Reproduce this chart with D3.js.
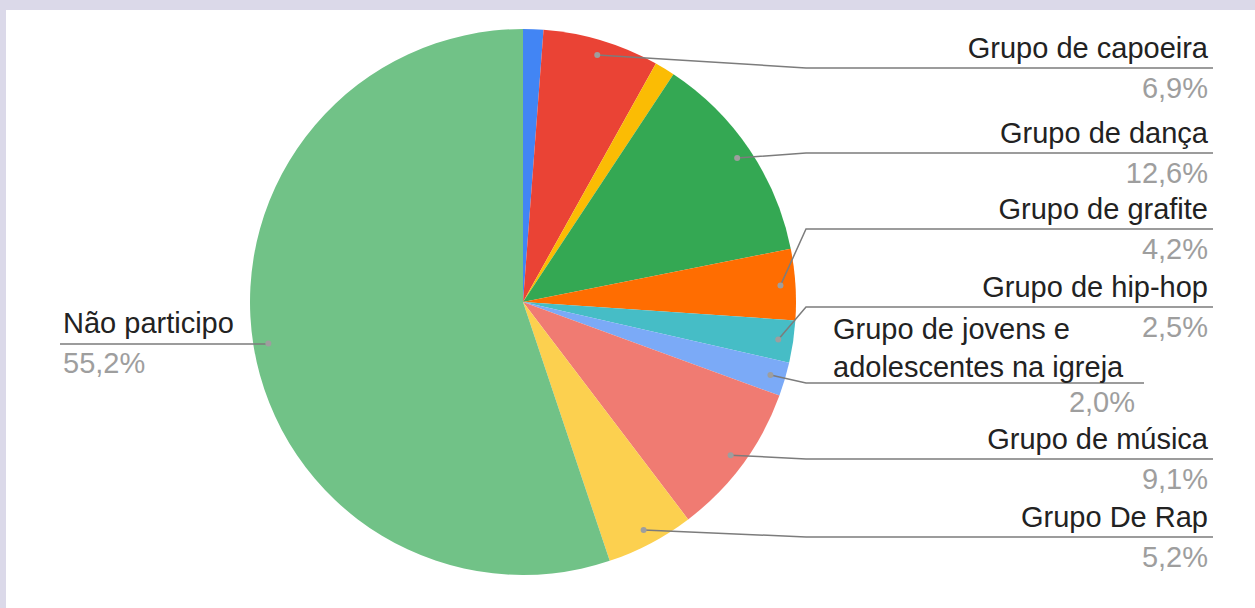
<!DOCTYPE html>
<html>
<head>
<meta charset="utf-8">
<script src="https://cdn.jsdelivr.net/npm/d3@7"></script>
<style>
  html, body { margin: 0; padding: 0; background: #ffffff; }
  svg { display: block; font-family: "Liberation Sans", Arial, sans-serif; }
</style>
</head>
<body>
<svg id="chart" width="1255" height="608"></svg>
<script>
// Participação em grupos (%), na ordem das fatias (sentido horário a partir do topo)
const categories = [
  "Outro grupo A",
  "Grupo de capoeira",
  "Outro grupo B",
  "Grupo de dança",
  "Grupo de grafite",
  "Grupo de hip-hop",
  "Grupo de jovens e adolescentes na igreja",
  "Grupo de música",
  "Grupo De Rap",
  "Não participo"
];
const values = [1.2, 6.9, 1.2, 12.6, 4.2, 2.5, 2.0, 9.1, 5.2, 55.2];
const colors = [
  "#4285f4", "#ea4335", "#fbbc04", "#34a853", "#ff6d01",
  "#46bdc6", "#7baaf7", "#f07b72", "#fcd04f", "#71c287"
];
// Vertical position of each label's leader line (null = slice too small to label)
const labelLineY = [null, 68, null, 153, 229, 307, 383, 459, 537, 344];

const W = 1255, H = 608;
const cx = 523, cy = 302, R = 273;
const dotR = 258;          // radius where leader lines start
const elbowX = 806;        // x where right-side leaders turn horizontal
const rightText = 1208;    // right edge of single-line right-side labels
const lineEnd = 1213;      // right end of their leader lines
const wrappedRight = 1135; // right edge of wrapped label blocks
const wrappedLineEnd = 1144;
const leftText = 63;       // left edge of left-side labels
const leftLineEnd = 60;
const wrapWidth = 302;
const fontSize = 29;

const svg = d3.select("#chart");

// page frame
svg.append("rect").attr("x", 0).attr("y", 0).attr("width", W).attr("height", H).attr("fill", "#ffffff");
svg.append("rect").attr("x", 0).attr("y", 0).attr("width", W).attr("height", 10).attr("fill", "#dbd9e9");
svg.append("rect").attr("x", 0).attr("y", 0).attr("width", 6).attr("height", H).attr("fill", "#dbd9e9");

const data = categories.map((c, i) => ({ name: c, value: values[i], color: colors[i], lineY: labelLineY[i] }));

const pie = d3.pie().sort(null).value(d => d.value);
const arcs = pie(data);
const arc = d3.arc().innerRadius(0).outerRadius(R);
const dotArc = d3.arc().innerRadius(dotR).outerRadius(dotR);

const g = svg.append("g").attr("transform", `translate(${cx},${cy})`);
g.selectAll("path.slice")
  .data(arcs)
  .join("path")
  .attr("class", "slice")
  .attr("d", arc)
  .attr("fill", d => d.data.color);

const fmt = v => d3.format(".1f")(v).replace(".", ",") + "%";

// text measuring for word wrap
const measure = svg.append("text").attr("font-size", fontSize).attr("visibility", "hidden");
function textWidth(s) { measure.text(s); return measure.node().getComputedTextLength(); }
function wrap(s, maxW) {
  const words = s.split(" ");
  const lines = [];
  let cur = "";
  words.forEach(w => {
    const t = cur ? cur + " " + w : w;
    if (cur && textWidth(t) > maxW) { lines.push(cur); cur = w; }
    else cur = t;
  });
  if (cur) lines.push(cur);
  return lines;
}

const LINE = "#7c7c7c", TITLE = "#222222", PCT = "#9e9e9e";
const labels = svg.append("g");
arcs.filter(d => d.data.lineY !== null).forEach(d => {
  const [dx, dy] = dotArc.centroid(d);
  const px = cx + dx, py = cy + dy;
  const ly = d.data.lineY;
  const mid = (d.startAngle + d.endAngle) / 2;
  const rightSide = mid < Math.PI;
  const lines = wrap(d.data.name, wrapWidth);

  if (rightSide) {
    const wrapped = lines.length > 1;
    const end = wrapped ? wrappedLineEnd : lineEnd;
    labels.append("path")
      .attr("d", d3.line()([[px, py], [elbowX, ly], [end, ly]]))
      .attr("fill", "none").attr("stroke", LINE).attr("stroke-width", 1.5);
    if (wrapped) {
      const left = wrappedRight - wrapWidth;
      lines.forEach((t, k) => {
        labels.append("text")
          .attr("x", left).attr("y", ly - 6 - (lines.length - 1 - k) * 38)
          .attr("font-size", fontSize).attr("fill", TITLE).text(t);
      });
      labels.append("text")
        .attr("x", wrappedRight).attr("y", ly + 29).attr("text-anchor", "end")
        .attr("font-size", fontSize).attr("fill", PCT).text(fmt(d.data.value));
    } else {
      labels.append("text")
        .attr("x", rightText).attr("y", ly - 10).attr("text-anchor", "end")
        .attr("font-size", fontSize).attr("fill", TITLE).text(lines[0]);
      labels.append("text")
        .attr("x", rightText).attr("y", ly + 30).attr("text-anchor", "end")
        .attr("font-size", fontSize).attr("fill", PCT).text(fmt(d.data.value));
    }
  } else {
    labels.append("path")
      .attr("d", d3.line()([[px, py], [px, ly], [leftLineEnd, ly]]))
      .attr("fill", "none").attr("stroke", LINE).attr("stroke-width", 1.5);
    labels.append("text")
      .attr("x", leftText).attr("y", ly - 11)
      .attr("font-size", fontSize).attr("fill", TITLE).text(lines.join(" "));
    labels.append("text")
      .attr("x", leftText).attr("y", ly + 29)
      .attr("font-size", fontSize).attr("fill", PCT).text(fmt(d.data.value));
  }
  labels.append("circle").attr("cx", px).attr("cy", py).attr("r", 3).attr("fill", PCT);
});
measure.remove();
</script>
</body>
</html>
